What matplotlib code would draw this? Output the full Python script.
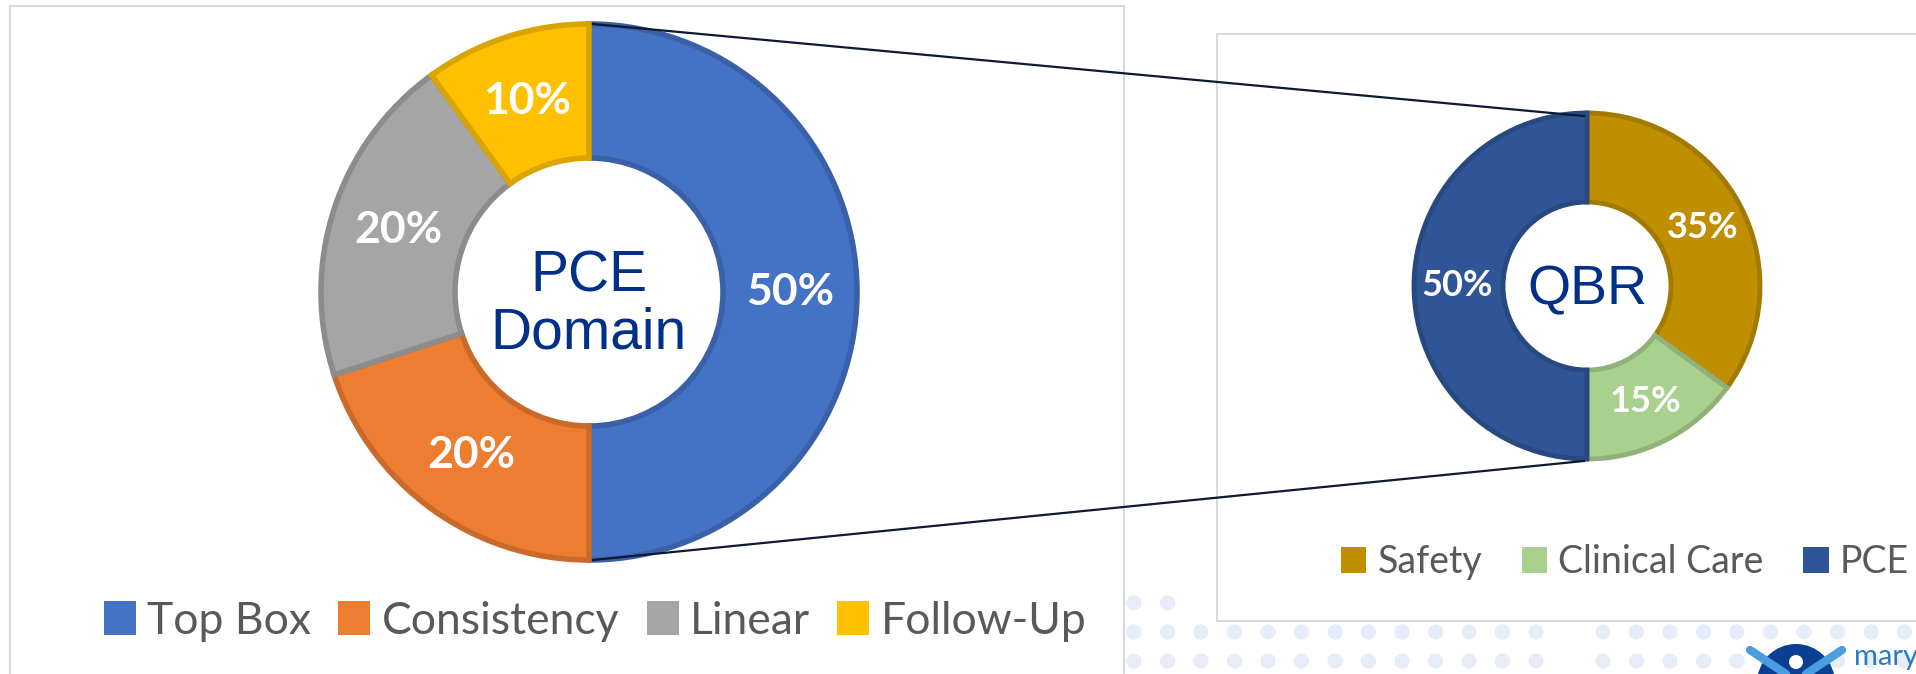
import numpy as np
import matplotlib.pyplot as plt
import matplotlib.colors as mcolors
from matplotlib.patches import Rectangle, Circle, Patch

# PCE domain donut
pce_labels = ['Top Box', 'Consistency', 'Linear', 'Follow-Up']
pce_values = [50, 20, 20, 10]
pce_colors = ['#4472C4', '#ED7D31', '#A5A5A5', '#FFC000']

# QBR donut
qbr_labels = ['Safety', 'Clinical Care', 'PCE']
qbr_values = [35, 15, 50]
qbr_colors = ['#BF8F00', '#A9D18E', '#2F5597']

W, H = 1916, 674
fig = plt.figure(figsize=(W / 100, H / 100), dpi=100)
ax = fig.add_axes([0, 0, 1, 1])


def Y(y):
    # image row -> axes y (pixel space, y up)
    return H - y


def darker(c, f=0.85):
    return tuple(np.array(mcolors.to_rgb(c)) * f)


# background dots (decoration), one dot missing in the pattern
dot_x = np.arange(1134, W + 20, 33.5)
dot_x = np.delete(dot_x, 13)
ax.scatter(dot_x[:2], [Y(603)] * 2, s=120, color='#e6edf8',
           edgecolors='none', zorder=0.5)
for row_y in [632, 661]:
    ax.scatter(dot_x, [Y(row_y)] * len(dot_x), s=120, color='#e6edf8',
               edgecolors='none', zorder=0.5)

# panel frames
ax.add_patch(Rectangle((10, -10), 1114, Y(6) + 10, facecolor='white',
                       edgecolor='#d9d9d9', lw=1.5, zorder=0.8))
ax.add_patch(Rectangle((1217, Y(621)), 720, 621 - 34, facecolor='white',
                       edgecolor='#d9d9d9', lw=1.5, zorder=0.8))

# left donut
c1 = (589, Y(292))
r1 = 268
wedges, _, autotexts = ax.pie(
    pce_values, colors=pce_colors, startangle=90, counterclock=False,
    radius=r1, center=c1, frame=True,
    wedgeprops=dict(width=134, linewidth=4),
    autopct=lambda p: f'{p:.0f}%', pctdistance=0.75,
    textprops=dict(color='white', fontsize=32, fontweight='bold',
                   family='Lato'))
for w, c in zip(wedges, pce_colors):
    w.set_edgecolor(darker(c))
    w.set_zorder(2)
for t in autotexts:
    t.set_zorder(3)

ax.text(c1[0], c1[1] - 13, 'PCE\nDomain', ha='center', va='center',
        fontsize=41, color='#003087', family='Liberation Sans',
        linespacing=1.05, zorder=3)

# right donut
c2 = (1587, Y(286))
r2 = 173
wedges2, _, autotexts2 = ax.pie(
    qbr_values, colors=qbr_colors, startangle=90, counterclock=False,
    radius=r2, center=c2, frame=True,
    wedgeprops=dict(width=89, linewidth=3.5),
    autopct=lambda p: f'{p:.0f}%', pctdistance=0.75,
    textprops=dict(color='white', fontsize=26, fontweight='bold',
                   family='Lato'))
for w, c in zip(wedges2, qbr_colors):
    w.set_edgecolor(darker(c))
    w.set_zorder(2)
for t in autotexts2:
    t.set_zorder(3)

ax.text(c2[0], c2[1] - 4, 'QBR', ha='center', va='center',
        fontsize=40, color='#003087', family='Liberation Sans', zorder=3)

# connector lines
ax.plot([c1[0] + 4, c2[0] - 3], [c1[1] + r1, c2[1] + r2 - 3],
        color='#0b1a33', lw=1.6, zorder=4)
ax.plot([c1[0] + 4, c2[0] - 3], [c1[1] - r1, c2[1] - r2 - 2],
        color='#0b1a33', lw=1.6, zorder=4)

# legends
h1 = [Patch(facecolor=c) for c in pce_colors]
leg1 = ax.legend(h1, pce_labels, loc='center', ncol=4, frameon=False,
                 bbox_to_anchor=(595 / W, Y(621) / H),
                 prop=dict(family='Lato', size=32), labelcolor='#595959',
                 handlelength=0.72, handleheight=0.8, handletextpad=0.25,
                 columnspacing=0.62, borderpad=0)
leg1.set_zorder(5)
ax.add_artist(leg1)

h2 = [Patch(facecolor=c) for c in qbr_colors]
leg2 = ax.legend(h2, qbr_labels, loc='center', ncol=3, frameon=False,
                 bbox_to_anchor=(1625 / W, Y(562) / H),
                 prop=dict(family='Lato', size=27), labelcolor='#595959',
                 handlelength=0.68, handleheight=0.72, handletextpad=0.3,
                 columnspacing=1.05, borderpad=0)
leg2.set_zorder(5)

# logo fragment, bottom right
ax.add_patch(Circle((1796, Y(683)), 39, facecolor='#0b3f91',
                    edgecolor='none', zorder=3))
ax.plot([1750, 1786], [Y(650), Y(674)], color='#4a9de0', lw=6,
        solid_capstyle='round', zorder=3.5)
ax.plot([1842, 1806], [Y(650), Y(674)], color='#4a9de0', lw=6,
        solid_capstyle='round', zorder=3.5)
ax.add_patch(Circle((1796, Y(662)), 7, facecolor='white',
                    edgecolor='none', zorder=3.6))
ax.text(1854, Y(657), 'mary', ha='left', va='center', fontsize=21,
        color='#2a7cc7', family='Lato', zorder=3)

ax.set_xlim(0, W)
ax.set_ylim(0, H)
ax.set_aspect('equal')
ax.axis('off')

fig.savefig('out.png', dpi=100, facecolor='white')
